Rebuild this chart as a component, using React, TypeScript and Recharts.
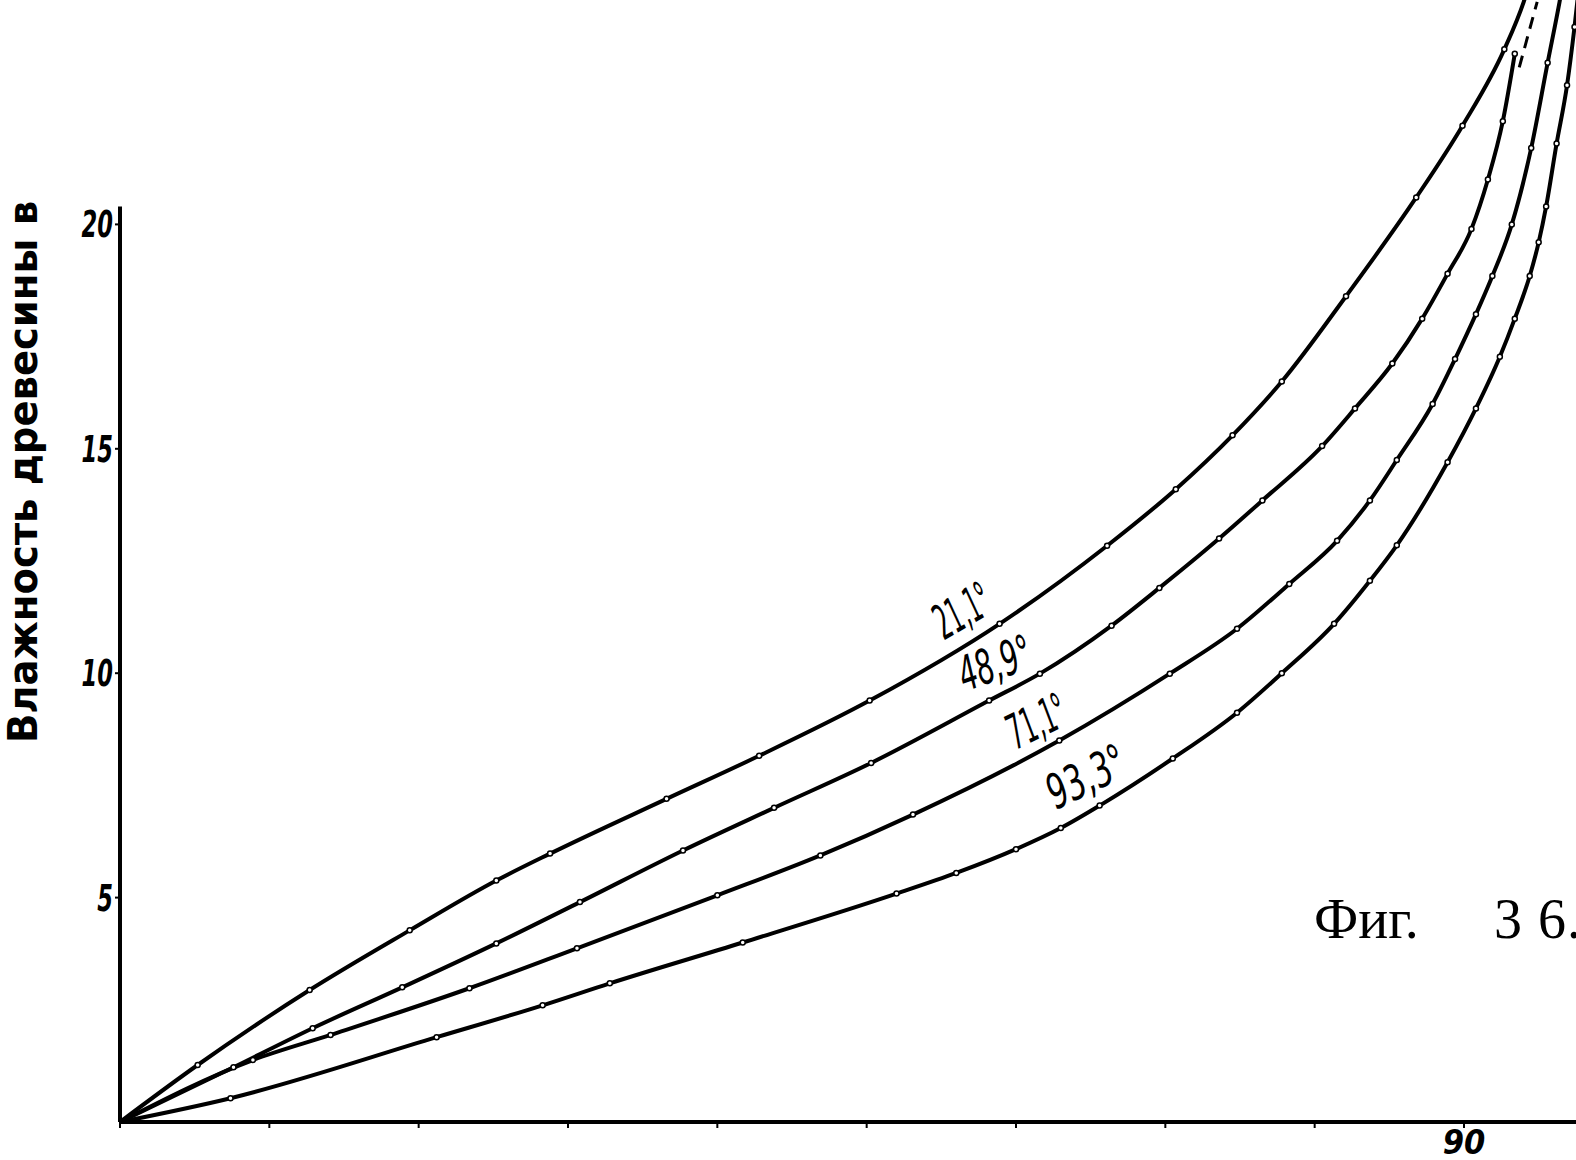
import { LineChart, Line, XAxis, YAxis, ReferenceLine, ReferenceDot } from 'recharts'

// Kurve 21,1°
const curve211 = [
  { x: 0, y: 0 }, { x: 5.2, y: 1.27 }, { x: 12.7, y: 2.94 }, { x: 19.4, y: 4.27 },
  { x: 25.2, y: 5.38 }, { x: 28.8, y: 5.98 }, { x: 36.6, y: 7.2 }, { x: 42.8, y: 8.16 },
  { x: 50.2, y: 9.39 }, { x: 58.9, y: 11.1 }, { x: 66.1, y: 12.84 }, { x: 70.7, y: 14.1 },
  { x: 74.5, y: 15.3 }, { x: 77.8, y: 16.5 }, { x: 82.1, y: 18.4 }, { x: 86.8, y: 20.6 },
  { x: 89.9, y: 22.2 }, { x: 92.7, y: 23.9 }, { x: 94.0, y: 24.96 }, { x: 94.6, y: 25.6 },
]
// Kurve 48,9°
const curve489 = [
  { x: 0, y: 0 }, { x: 7.6, y: 1.22 }, { x: 12.9, y: 2.09 }, { x: 18.9, y: 3.0 },
  { x: 25.2, y: 3.98 }, { x: 30.8, y: 4.9 }, { x: 37.7, y: 6.05 }, { x: 43.8, y: 7.0 },
  { x: 50.3, y: 8.0 }, { x: 58.2, y: 9.39 }, { x: 61.6, y: 9.99 }, { x: 66.4, y: 11.06 },
  { x: 69.6, y: 11.9 }, { x: 73.6, y: 13.0 }, { x: 76.5, y: 13.85 }, { x: 80.5, y: 15.06 },
  { x: 82.7, y: 15.9 }, { x: 85.2, y: 16.9 }, { x: 87.2, y: 17.9 }, { x: 88.9, y: 18.9 },
  { x: 90.5, y: 19.9 }, { x: 91.6, y: 21.0 }, { x: 92.6, y: 22.3 }, { x: 93.4, y: 23.8 },
]
const curve489Tail = [{ x: 93.7, y: 23.5 }, { x: 94.9, y: 24.96 }]
// Kurve 71,1°
const curve711 = [
  { x: 0, y: 0 }, { x: 8.9, y: 1.38 }, { x: 14.1, y: 1.94 }, { x: 23.4, y: 2.98 },
  { x: 30.6, y: 3.87 }, { x: 40.0, y: 5.05 }, { x: 46.9, y: 5.94 }, { x: 53.1, y: 6.85 },
  { x: 62.9, y: 8.5 }, { x: 70.3, y: 9.99 }, { x: 74.8, y: 10.99 }, { x: 78.3, y: 11.99 },
  { x: 81.5, y: 12.95 }, { x: 83.7, y: 13.85 }, { x: 85.5, y: 14.75 }, { x: 87.9, y: 16.0 },
  { x: 89.4, y: 17.0 }, { x: 90.8, y: 18.0 }, { x: 91.9, y: 18.85 }, { x: 93.2, y: 20.0 },
  { x: 94.5, y: 21.7 }, { x: 95.6, y: 23.6 }, { x: 96.4, y: 24.96 }, { x: 96.8, y: 25.7 },
]
// Kurve 93,3°
const curve933 = [
  { x: 0, y: 0 }, { x: 7.4, y: 0.53 }, { x: 21.2, y: 1.89 }, { x: 28.3, y: 2.6 },
  { x: 32.8, y: 3.09 }, { x: 41.7, y: 4.0 }, { x: 52.0, y: 5.09 }, { x: 56.0, y: 5.55 },
  { x: 60.0, y: 6.08 }, { x: 63.0, y: 6.55 }, { x: 65.6, y: 7.05 }, { x: 70.5, y: 8.1 },
  { x: 74.8, y: 9.12 }, { x: 77.8, y: 10.0 }, { x: 81.3, y: 11.1 }, { x: 83.7, y: 12.06 },
  { x: 85.5, y: 12.85 }, { x: 88.9, y: 14.7 }, { x: 90.8, y: 15.9 }, { x: 92.4, y: 17.05 },
  { x: 93.4, y: 17.9 }, { x: 94.4, y: 18.85 }, { x: 95.0, y: 19.6 }, { x: 95.5, y: 20.4 },
  { x: 96.2, y: 21.8 }, { x: 96.9, y: 23.1 }, { x: 97.4, y: 24.4 }, { x: 97.7, y: 25.3 },
]

const xTicks = [0, 10, 20, 30, 40, 50, 60, 70, 80, 90]
const yTicks = [5, 10, 15, 20]

const curveLabels = [
  { text: '21,1°', x: 56.4, y: 11.4, angle: -30, len: 60 },
  { text: '48,9°', x: 58.6, y: 10.23, angle: -20, len: 76 },
  { text: '71,1°', x: 61.4, y: 8.94, angle: -26, len: 62 },
  { text: '93,3°', x: 64.7, y: 7.7, angle: -26, len: 84 },
]

const hand = '"DejaVu Sans Condensed", "Liberation Sans Narrow", sans-serif'
const serif = '"Liberation Serif", "DejaVu Serif", serif'

const dot = (p: any) =>
  p.payload.y > 24.9 || p.payload.x === 0 ? <g key={`${p.index}`} /> : (
    <circle key={`${p.index}`} cx={p.cx} cy={p.cy} r={2.5} fill="#fff" stroke="#000" strokeWidth={1.5} />
  )

const YTick = (p: any) => (
  <text transform={`translate(${p.x} ${p.y + 13}) scale(0.66 1)`} textAnchor="end"
    fontFamily={hand} fontWeight="bold" fontStyle="italic" fontSize={38} fill="#000">
    {p.payload.value}
  </text>
)

const XTick = (p: any) =>
  p.payload.value === 90 ? (
    <text x={p.x} y={p.y} dy={24} textAnchor="middle" fontFamily={hand} fontWeight="bold"
      fontStyle="italic" fontSize={34} fill="#000">
      90
    </text>
  ) : <g />

export default function App() {
  return (
    <div style={{ position: 'absolute', left: 0, top: 0, width: 1576, height: 1160, background: '#fff' }}>
      <LineChart width={1576} height={1160} margin={{ top: 0, right: 0, left: 60, bottom: 8 }}>
        <XAxis type="number" dataKey="x" domain={[0, 97.5]} ticks={xTicks} allowDataOverflow
          height={30} axisLine={{ stroke: '#000', strokeWidth: 4 }}
          tickLine={{ stroke: '#000', strokeWidth: 2 }} tickSize={6} tick={<XTick />} />
        <YAxis type="number" dataKey="y" domain={[0, 25]} ticks={yTicks} allowDataOverflow
          width={60} axisLine={false} tickLine={{ stroke: '#000', strokeWidth: 2 }}
          tickSize={5} tick={<YTick />} />
        <ReferenceLine segment={[{ x: 0, y: 0 }, { x: 0, y: 20.4 }]} stroke="#000" strokeWidth={4} />
        <Line data={curve211} dataKey="y" type="monotone" stroke="#000" strokeWidth={4}
          dot={dot} isAnimationActive={false} />
        <Line data={curve489} dataKey="y" type="monotone" stroke="#000" strokeWidth={4}
          dot={dot} isAnimationActive={false} />
        <Line data={curve489Tail} dataKey="y" type="linear" stroke="#000" strokeWidth={3}
          strokeDasharray="12 8" dot={false} isAnimationActive={false} />
        <Line data={curve711} dataKey="y" type="monotone" stroke="#000" strokeWidth={4}
          dot={dot} isAnimationActive={false} />
        <Line data={curve933} dataKey="y" type="monotone" stroke="#000" strokeWidth={4}
          dot={dot} isAnimationActive={false} />
        {curveLabels.map(l => (
          <ReferenceDot key={l.text} x={l.x} y={l.y} r={0}
            shape={(p: any) => (
              <text x={p.cx} y={p.cy} transform={`rotate(${l.angle} ${p.cx} ${p.cy})`}
                textAnchor="middle" dominantBaseline="central" fontFamily={hand}
                fontStyle="italic" fontSize={48} textLength={l.len} lengthAdjust="spacingAndGlyphs"
                fill="#000">
                {l.text}
              </text>
            )} />
        ))}
      </LineChart>
      <svg width={1576} height={1160} style={{ position: 'absolute', left: 0, top: 0, pointerEvents: 'none' }}>
        <text transform="translate(37 472) rotate(-90)" textAnchor="middle" fontFamily={hand}
          fontWeight="bold" fontSize={40} textLength={542} lengthAdjust="spacingAndGlyphs" fill="#000">
          Влажность древесины в
        </text>
        <text x={1314} y={938} fontFamily={serif} fontSize={56} fill="#000">
          Фиг.
        </text>
        <text y={938} fontFamily={serif} fontSize={56} fill="#000">
          <tspan x={1494}>3</tspan>
          <tspan x={1538}>6</tspan>
          <tspan x={1567}>.</tspan>
        </text>
      </svg>
    </div>
  )
}
